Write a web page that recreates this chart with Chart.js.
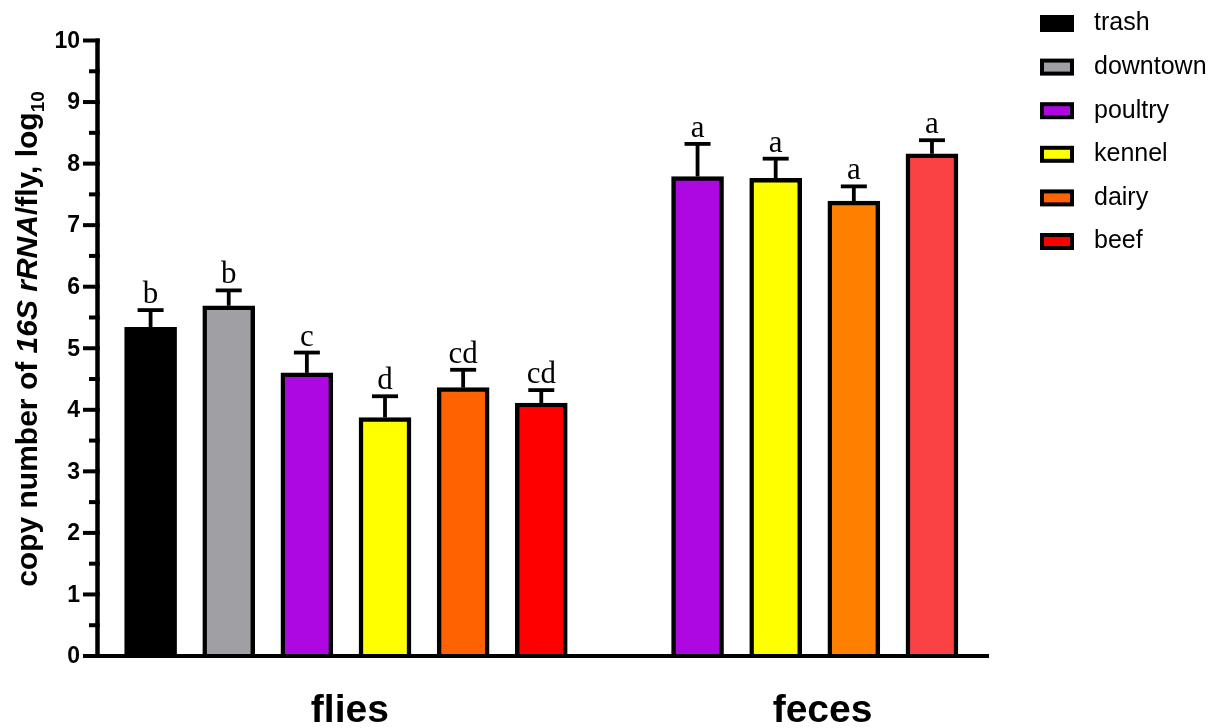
<!DOCTYPE html>
<html>
<head>
<meta charset="utf-8">
<script src="https://cdn.jsdelivr.net/npm/chart.js@4.4.0/dist/chart.umd.min.js"></script>
<style>
  html, body { margin: 0; padding: 0; background: #fff; }
  canvas { display: block; }
</style>
</head>
<body>
<canvas id="chart" width="1211" height="728"></canvas>
<script>
// Sample groups and the source sites within each group
const groups = ['flies', 'feces'];
const fliesSources = ['trash', 'downtown', 'poultry', 'kennel', 'dairy', 'beef'];
const fecesSources = ['poultry', 'kennel', 'dairy', 'beef'];

// Mean copy number (log10) and upper SEM for each bar
const fliesMeans  = [5.34, 5.69, 4.60, 3.875, 4.36, 4.11];
const fliesErrors = [0.28, 0.25, 0.33, 0.345, 0.29, 0.21];
const fecesMeans  = [7.79, 7.76, 7.39, 8.16];
const fecesErrors = [0.53, 0.32, 0.24, 0.22];

// Significance letters drawn above the error bars
const fliesLetters = ['b', 'b', 'c', 'd', 'cd', 'cd'];
const fecesLetters = ['a', 'a', 'a', 'a'];

// Y axis tick labels
const yTickLabels = ['0', '1', '2', '3', '4', '5', '6', '7', '8', '9', '10'];

// Fill colours
const fliesColors = ['#000000', '#a09fa4', '#ad08e2', '#ffff00', '#ff6200', '#ff0000'];
const fecesColors = ['#ad08e2', '#ffff00', '#ff8000', '#fa4244'];
const legendLabels = ['trash', 'downtown', 'poultry', 'kennel', 'dairy', 'beef'];
const legendColors = ['#000000', '#a09fa4', '#ad08e2', '#ffff00', '#ff6200', '#ff0000'];

// Bars sit in slots along a numeric x axis; one empty slot separates the groups
const fecesStart = fliesSources.length + 1;
const points = [], barColors = [], errs = [], letters = [];
fliesMeans.forEach((v, i) => { points.push({ x: i, y: v }); barColors.push(fliesColors[i]); errs.push(fliesErrors[i]); letters.push(fliesLetters[i]); });
fecesMeans.forEach((v, i) => { points.push({ x: fecesStart + i, y: v }); barColors.push(fecesColors[i]); errs.push(fecesErrors[i]); letters.push(fecesLetters[i]); });

const SANS = '"Liberation Sans", Arial, Helvetica, sans-serif';
const SERIF = '"Liberation Serif", "Times New Roman", serif';

const decorations = {
  id: 'decorations',
  afterDraw(chart) {
    const ctx = chart.ctx;
    const xs = chart.scales.x, ys = chart.scales.y;
    const y0 = ys.getPixelForValue(0), y10 = ys.getPixelForValue(10);
    const axisX = chart.chartArea.left;
    ctx.save();
    ctx.strokeStyle = '#000';
    ctx.fillStyle = '#000';
    ctx.lineCap = 'butt';

    // x axis line
    ctx.lineWidth = 4;
    ctx.beginPath();
    ctx.moveTo(axisX - 2.25, y0);
    ctx.lineTo(chart.chartArea.right, y0);
    ctx.stroke();

    // y axis line with major and minor ticks
    ctx.lineWidth = 4.5;
    ctx.beginPath();
    ctx.moveTo(axisX, y10 - 2);
    ctx.lineTo(axisX, y0 + 2);
    ctx.stroke();
    ctx.lineWidth = 4;
    for (let k = 0; k <= 20; k++) {
      const v = k / 2;
      const py = ys.getPixelForValue(v);
      const len = (k % 2 === 0) ? 14.5 : 8.5;
      ctx.beginPath();
      ctx.moveTo(axisX - len, py);
      ctx.lineTo(axisX + 2.25, py);
      ctx.stroke();
    }
    ctx.font = 'bold 23px ' + SANS;
    ctx.textAlign = 'right';
    ctx.textBaseline = 'middle';
    yTickLabels.forEach((t, i) => {
      ctx.fillText(t, axisX - 17.5, ys.getPixelForValue(i) + 1);
    });

    // y axis title, rotated, with italic gene name and subscript
    const segs = [
      { t: 'copy number of ', f: 'bold 30px ' + SANS, dy: 0 },
      { t: '16S rRNA', f: 'italic bold 30px ' + SANS, dy: 0 },
      { t: '/fly, log', f: 'bold 30px ' + SANS, dy: 0 },
      { t: '10', f: 'bold 19px ' + SANS, dy: 7 }
    ];
    let total = 0;
    segs.forEach(s => { ctx.font = s.f; s.w = ctx.measureText(s.t).width; total += s.w; });
    ctx.save();
    ctx.translate(37, 339);
    ctx.rotate(-Math.PI / 2);
    ctx.textAlign = 'left';
    ctx.textBaseline = 'alphabetic';
    let cx = -total / 2;
    segs.forEach(s => { ctx.font = s.f; ctx.fillText(s.t, cx, s.dy); cx += s.w; });
    ctx.restore();

    // group labels under the x axis
    ctx.font = 'bold 39px ' + SANS;
    ctx.textAlign = 'center';
    ctx.textBaseline = 'alphabetic';
    const groupCenters = [(fliesSources.length - 1) / 2 + 0.05, fecesStart + (fecesSources.length - 1) / 2 + 0.1];
    groups.forEach((g, i) => ctx.fillText(g, xs.getPixelForValue(groupCenters[i]), 722));

    // error bars (upper) and letters
    const meta = chart.getDatasetMeta(0);
    meta.data.forEach((bar, i) => {
      const top = ys.getPixelForValue(points[i].y + errs[i]);
      ctx.lineWidth = 3.8;
      ctx.beginPath();
      ctx.moveTo(bar.x, bar.y);
      ctx.lineTo(bar.x, top);
      ctx.stroke();
      ctx.beginPath();
      ctx.moveTo(bar.x - 13, top);
      ctx.lineTo(bar.x + 13, top);
      ctx.stroke();
      ctx.font = '31px ' + SERIF;
      ctx.textAlign = 'center';
      ctx.textBaseline = 'alphabetic';
      ctx.fillText(letters[i], bar.x, top - 7);
    });

    // legend
    ctx.font = '25px ' + SANS;
    ctx.textAlign = 'left';
    ctx.textBaseline = 'middle';
    legendLabels.forEach((lab, i) => {
      const cy = 23.5 + 43.6 * i;
      ctx.fillStyle = '#000';
      ctx.fillRect(1040, cy - 8.5, 34, 17);
      ctx.fillStyle = legendColors[i];
      ctx.fillRect(1044, cy - 4.5, 26, 9);
      ctx.fillStyle = '#000';
      ctx.fillText(lab, 1094, cy);
    });
    ctx.restore();
  }
};

new Chart(document.getElementById('chart'), {
  type: 'bar',
  data: {
    datasets: [{
      data: points,
      backgroundColor: barColors,
      borderColor: '#000000',
      borderWidth: 4.5,
      borderSkipped: 'start',
      barThickness: 52
    }]
  },
  options: {
    responsive: false,
    animation: false,
    events: [],
    layout: { padding: { left: 97.5, right: 222, top: 40.5, bottom: 72 } },
    scales: {
      x: { type: 'linear', display: false, offset: false, min: -0.6795, max: 10.73 },
      y: { type: 'linear', display: false, min: 0, max: 10 }
    },
    plugins: { legend: { display: false }, tooltip: { enabled: false } }
  },
  plugins: [decorations]
});
</script>
</body>
</html>
